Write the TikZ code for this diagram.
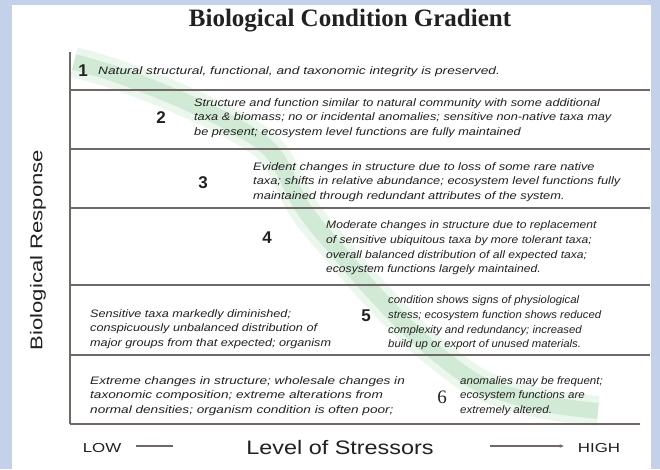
\documentclass[tikz,border=0pt]{standalone}
\usepackage{fontspec}
\usetikzlibrary{arrows.meta}
\setmainfont{Liberation Sans}
\newfontfamily\titlefont{Liberation Serif}
\newfontfamily\fA[FakeStretch=1.27]{Liberation Sans Italic}
\newfontfamily\fB[FakeStretch=1.18]{Liberation Sans Italic}
\newfontfamily\fC[FakeStretch=1.19]{Liberation Sans Italic}
\newfontfamily\fD[FakeStretch=1.12]{Liberation Sans Italic}
\newfontfamily\fE[FakeStretch=1.17]{Liberation Sans Italic}
\newfontfamily\fF[FakeStretch=1.05]{Liberation Sans Italic}
\newfontfamily\fG[FakeStretch=1.26]{Liberation Sans Italic}
\newfontfamily\fH[FakeStretch=1.07]{Liberation Sans Italic}
\newfontfamily\fLbl[FakeStretch=1.2]{Liberation Sans}
\newfontfamily\fLow[FakeStretch=1.3]{Liberation Sans}
\newfontfamily\fResp[FakeStretch=1.3]{Liberation Sans}
\definecolor{bgblue}{RGB}{195,209,235}
\definecolor{rulegray}{RGB}{112,104,102}
\definecolor{inkc}{RGB}{34,32,32}
\definecolor{bandgreen}{RGB}{178,220,186}
\begin{document}
\begin{tikzpicture}[x=1pt,y=-1pt,
  rowtext/.style={anchor=west,align=left,inner sep=0pt,text=inkc},
  num/.style={inner sep=0pt,text=inkc,font=\fontsize{17}{17}\selectfont\bfseries},
  rowrule/.style={draw=rulegray,line width=1.7pt},
  axislabel/.style={inner sep=0pt,text=inkc}]
\newcommand{\rsz}{\fontsize{10.8}{14.6}\selectfont}
\fill[bgblue] (0,0) rectangle (660,469);
\fill[white] (12,5) rectangle (651,469);
\useasboundingbox (0,0) rectangle (660,469);
% green gradient band
\def\bandpath{plot[smooth,tension=0.55] coordinates {(74,62) (115,74) (170,95) (228,122) (272,152) (303,208) (337,250) (367,285) (405,325) (440,356) (482,385) (540,403) (598,411)}}
\draw[bandgreen,line width=30pt,opacity=0.25] \bandpath;
\draw[bandgreen,line width=16pt,opacity=0.45] \bandpath;
% title
\node[inner sep=0pt,text=inkc,font=\titlefont\fontsize{25}{25}\selectfont\bfseries] (title) at (350,21) {Biological Condition Gradient};
% table frame
\coordinate (tl) at (70,52);
\coordinate (bl) at (70,424);
\coordinate (br) at (640,424);
\draw[draw=rulegray,line width=1.1pt] (tl) -- (bl);
\foreach \yy/\nm in {90/r1,149/r2,208/r3,285/r4,355/r5}{
  \coordinate (\nm a) at (70,\yy);
  \coordinate (\nm b) at (650,\yy);
  \draw[rowrule] (\nm a) -- (\nm b);
}
\draw[rowrule] (bl) -- (br);
% row 1
\node[num] (n1) at (83,71) {1};
\node[rowtext,font=\fA\rsz] (t1) at (98,72) {Natural structural, functional, and taxonomic integrity is preserved.};
% row 2
\node[num] (n2) at (161,118) {2};
\node[rowtext,font=\fB\rsz] (t2) at (194,118) {Structure and function similar to natural community with some additional\\taxa \& biomass; no or incidental anomalies; sensitive non-native taxa may\\be present; ecosystem level functions are fully maintained};
% row 3
\node[num] (n3) at (203,183) {3};
\node[rowtext,font=\fC\rsz] (t3) at (253,182) {Evident changes in structure due to loss of some rare native\\taxa; shifts in relative abundance; ecosystem level functions fully\\maintained through redundant attributes of the system.};
% row 4
\node[num] (n4) at (267,238) {4};
\node[rowtext,font=\fD\rsz] (t4) at (326,248) {Moderate changes in structure due to replacement\\of sensitive ubiquitous taxa by more tolerant taxa;\\overall balanced distribution of all expected taxa;\\ecosystem functions largely maintained.};
% row 5
\node[rowtext,font=\fE\rsz] (t5a) at (90,329) {Sensitive taxa markedly diminished;\\conspicuously unbalanced distribution of\\major groups from that expected; organism};
\node[num] (n5) at (366,316) {5};
\node[rowtext,font=\fF\rsz] (t5b) at (388,323) {condition shows signs of physiological\\stress; ecosystem function shows reduced\\complexity and redundancy; increased\\build up or export of unused materials.};
% row 6
\node[rowtext,font=\fG\rsz] (t6a) at (90,396) {Extreme changes in structure; wholesale changes in\\taxonomic composition; extreme alterations from\\normal densities; organism condition is often poor;};
\node[inner sep=0pt,text=inkc,font=\titlefont\fontsize{19}{19}\selectfont] (n6) at (442,397) {6};
\node[rowtext,font=\fH\rsz] (t6b) at (460,396) {anomalies may be frequent;\\ecosystem functions are\\extremely altered.};
% axis labels
\node[axislabel,rotate=90,font=\fResp\fontsize{17}{17}\selectfont] (resp) at (38,250) {Biological Response};
\node[axislabel,font=\fLow\fontsize{13}{13}\selectfont] (low) at (102,448) {LOW};
\node[axislabel,font=\fLbl\fontsize{19.5}{19.5}\selectfont] (lvl) at (340,448) {Level of Stressors};
\node[axislabel,font=\fLow\fontsize{13}{13}\selectfont] (high) at (599,448) {HIGH};
\coordinate (lowend) at (173,446);
\coordinate (arrstart) at (490,446);
\draw[rulegray,line width=1.1pt] ([xshift=15pt]low.east |- lowend) -- (lowend);
\draw[rulegray,line width=1.1pt,-{Stealth[length=4pt,width=3.5pt]}] (arrstart) -- ([xshift=-14pt]high.west |- arrstart);
\end{tikzpicture}
\end{document}
